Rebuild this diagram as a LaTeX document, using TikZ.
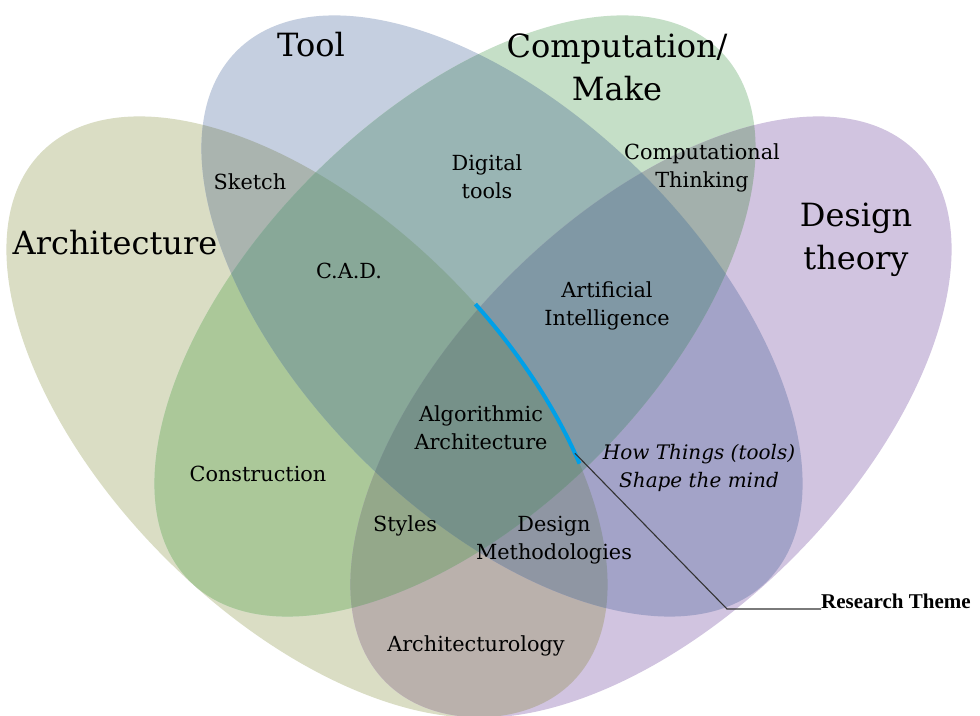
\documentclass[tikz,border=0pt]{standalone}
\usepackage{fontspec}
\setmainfont{DejaVu Serif}
\newfontfamily\calloutfont{Liberation Serif}
% clip to one of the four sets
\newcommand\vennclip[1]{\clip[set#1] (0,0) ellipse[x radius=375, y radius=200];}
% fill one set (inside any clips in force)
\newcommand\vennfill[2]{\fill[set#1, #2] (0,0) ellipse[x radius=375, y radius=200];}
\begin{document}
\begin{tikzpicture}[x=1pt,y=1pt,
  setA/.style={shift={(307,298)},rotate=-45},
  setT/.style={shift={(502,399)},rotate=-45},
  setC/.style={shift={(455,399)},rotate=45},
  setD/.style={shift={(651,298)},rotate=45},
  lbl/.style={font=\fontsize{20.8}{28}\selectfont, align=center, inner sep=0pt, text=black},
  ttl/.style={font=\fontsize{32}{43}\selectfont, align=center, inner sep=0pt, text=black},
  theme/.style={draw=theme, line width=4pt},
  leader/.style={draw=black!80, line width=1.1pt}]
\definecolor{cA}{RGB}{218,221,196}
\definecolor{cT}{RGB}{197,207,224}
\definecolor{cC}{RGB}{197,223,199}
\definecolor{cD}{RGB}{209,196,224}
\definecolor{cAT}{RGB}{170,180,175}
\definecolor{cAC}{RGB}{171,200,153}
\definecolor{cAD}{RGB}{186,177,172}
\definecolor{cTC}{RGB}{153,181,180}
\definecolor{cTD}{RGB}{163,163,200}
\definecolor{cCD}{RGB}{163,176,172}
\definecolor{cATC}{RGB}{136,168,152}
\definecolor{cATD}{RGB}{143,150,163}
\definecolor{cACD}{RGB}{148,168,138}
\definecolor{cTCD}{RGB}{128,152,165}
\definecolor{cATCD}{RGB}{118,145,137}
\definecolor{theme}{RGB}{0,160,232}
\useasboundingbox (0,0) rectangle (980,715);
\fill[white] (0,0) rectangle (980,715);

% single sets
\vennfill{A}{cA}
\vennfill{T}{cT}
\vennfill{C}{cC}
\vennfill{D}{cD}
% pairwise overlaps
\begin{scope}\vennclip{A}\vennfill{T}{cAT}\end{scope}
\begin{scope}\vennclip{A}\vennfill{C}{cAC}\end{scope}
\begin{scope}\vennclip{A}\vennfill{D}{cAD}\end{scope}
\begin{scope}\vennclip{T}\vennfill{C}{cTC}\end{scope}
\begin{scope}\vennclip{T}\vennfill{D}{cTD}\end{scope}
\begin{scope}\vennclip{C}\vennfill{D}{cCD}\end{scope}
% triple overlaps
\begin{scope}\vennclip{A}\vennclip{T}\vennfill{C}{cATC}\end{scope}
\begin{scope}\vennclip{A}\vennclip{T}\vennfill{D}{cATD}\end{scope}
\begin{scope}\vennclip{A}\vennclip{C}\vennfill{D}{cACD}\end{scope}
\begin{scope}\vennclip{T}\vennclip{C}\vennfill{D}{cTCD}\end{scope}
% all four
\begin{scope}\vennclip{A}\vennclip{T}\vennclip{C}\vennfill{D}{cATCD}\end{scope}

% research theme arc on the Architecture boundary
\draw[setA, theme] (84:375 and 200) arc[start angle=84, end angle=53, x radius=375, y radius=200];
\path[setA] (55:375 and 200) coordinate (ls);
\coordinate (lk) at (727,106);

% set titles
\node[ttl] (tArch) at (115,472) {Architecture};
\node[ttl] (tTool) at (311,670) {Tool};
\node[ttl] (tComp) at (617,648) {Computation/\\Make};
\node[ttl] (tDes) at (856,475) {Design\\theory};

% region labels
\node[lbl] (sketch) at (250,533) {Sketch};
\node[lbl] (digital) at (487,538) {Digital\\tools};
\node[lbl] (ct) at (702,547) {Computational\\Thinking};
\node[lbl] (cad) at (349,444) {C.A.D.};
\node[lbl] (ai) at (607,409) {Artificial\\Intelligence};
\node[lbl] (algo) at (481,287) {Algorithmic\\Architecture};
\node[lbl] (constr) at (258,241) {Construction};
\node[lbl, font=\fontsize{20}{28}\selectfont\itshape] (how) at (699,247) {How Things (tools)\\Shape the mind};
\node[lbl] (styles) at (405,189) {Styles};
\node[lbl] (dm) at (554,175) {Design\\Methodologies};
\node[lbl] (archl) at (476,69) {Architecturology};

% research theme callout
\node[inner sep=0pt, anchor=base west, font=\calloutfont\fontsize{21}{24}\selectfont\bfseries] (rt) at (821,106) {Research Theme};
\draw[leader] (ls) -- (lk) -- (rt.base west);
\end{tikzpicture}
\end{document}
